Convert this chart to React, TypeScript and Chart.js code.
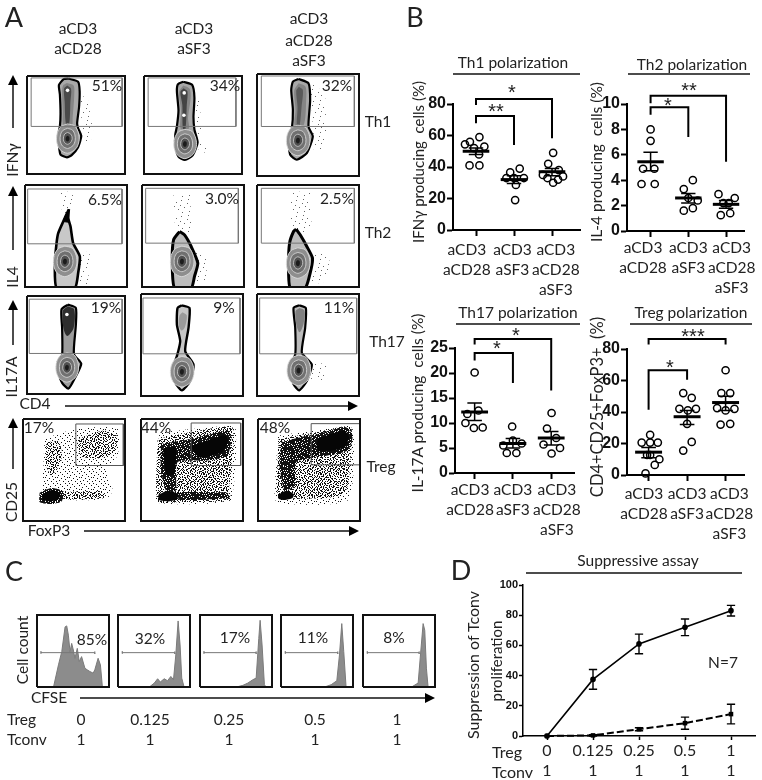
import React, { useEffect, useRef } from "react";
import { Chart, registerables } from "chart.js";

Chart.register(...registerables);

type P = [number, number];
const FONT = "Lato, 'Open Sans', sans-serif";
const BOLD = "'Liberation Sans', Arial, sans-serif";

/* ---------- Panel B data ---------- */
const conditions = [["aCD3", "aCD28"], ["aCD3", "aSF3"], ["aCD3", "aCD28", "aSF3"]];

const th1Points: P[] = [[0.71, 54.4], [0.84, 56], [1.09, 59], [1.22, 53], [0.95, 52], [1.08, 48], [0.83, 41], [1.09, 41],
  [1.9, 36.6], [2.15, 39], [2.26, 33], [1.8, 33], [2.05, 28.6], [2.03, 19], [2.0, 33],
  [3.03, 49], [2.9, 42], [3.18, 38], [2.76, 35], [3.29, 34], [2.88, 33], [3.16, 32], [3.03, 30]];
const th1Mean = [50, 32, 37];
const th1Low = [48, 29.5, 34.5];
const th1High = [52, 34.5, 39];
const th1Brackets: P[][] = [[[1, 79.4], [1, 83.2], [3, 83.2], [3, 58.2]], [[1, 67.7], [1, 72.4], [2, 72.4], [2, 54]]];

const th2Points: P[] = [[1, 8], [1, 7.1], [0.8, 4.9], [1.1, 4.9], [0.76, 3.7], [1.11, 3.7],
  [2.12, 4], [1.88, 3.3], [2.25, 2.4], [2.0, 2.6], [2.12, 1.8], [1.88, 1.6],
  [2.8, 2.9], [3.23, 2.6], [2.93, 2.2], [3.07, 2.2], [2.86, 1.25], [3.11, 1.4]];
const th2Mean = [5.45, 2.6, 2.1];
const th2Low = [4.75, 2.2, 1.8];
const th2High = [6.2, 2.95, 2.4];
const th2Brackets: P[][] = [[[1, 10.05], [1, 10.65], [3, 10.65], [3, 5.45]], [[1, 9.15], [1, 9.75], [2, 9.75], [2, 7.4]]];

const th17Points: P[] = [[1, 20.1], [1.1, 12.5], [0.81, 11.8], [0.76, 10], [0.98, 9], [1.21, 9.1],
  [1.98, 9.3], [2.0, 6.5], [2.23, 5.9], [1.75, 5.5], [1.84, 4], [2.09, 4],
  [3.01, 12], [2.89, 8.9], [3.13, 7], [2.8, 5.7], [3.23, 5], [3.01, 3.9]];
const th17Mean = [12.2, 5.9, 7];
const th17Low = [10.5, 5, 5.6];
const th17High = [14, 6.9, 8.3];
const th17Brackets: P[][] = [[[1, 25.7], [1, 26.8], [3, 26.8], [3, 16.5]], [[1, 22.5], [1, 24], [2, 24], [2, 18]]];

const tregPoints: P[] = [[1.04, 25.5], [0.82, 20.6], [1.04, 20.6], [1.24, 20.6], [0.96, 12.7], [1.04, 12.7], [1.28, 10], [1.16, 6.4], [0.92, 1],
  [1.9, 52], [2.12, 49], [1.8, 42], [2.02, 41], [2.23, 42], [2.0, 32.5], [2.12, 21], [1.9, 15.5],
  [3, 66.5], [2.89, 52], [3.12, 52], [2.78, 42.5], [3, 41], [3.23, 42], [2.87, 32], [3.12, 32.5]];
const tregMean = [14.5, 37, 46];
const tregLow = [11, 32, 41];
const tregHigh = [17.5, 41, 50];
const tregBrackets: P[][] = [[[1, 82.8], [1, 86.4], [3, 86.4], [3, 82.8]], [[1, 41.4], [1, 66.5], [2, 66.5], [2, 60.5]]];

/* ---------- Panel D data ---------- */
const dTreg = ["0", "0.125", "0.25", "0.5", "1"];
const dTconv = ["1", "1", "1", "1", "1"];
const suppressionAct = [0, 37.5, 61, 72, 83];
const suppressionActErr = [0, 6.5, 6.5, 5.5, 3.5];
const suppressionCtl = [0, 0.4, 4.5, 8.5, 14.5];
const suppressionCtlErr = [0, 0.5, 1, 4, 6.5];

/* ---------- Panel C histograms (channel, count) ---------- */
const hist85: P[] = [[50, 0], [65, 67], [75, 107], [85, 182], [90, 185], [95, 157], [100, 107], [105, 132], [110, 112], [115, 87], [122, 117], [128, 77], [135, 92], [145, 57], [152, 52], [160, 47], [170, 42], [175, 52], [185, 87], [192, 67], [198, 0]];
const hist32: P[] = [[95, 0], [110, 12], [120, 25], [128, 15], [140, 25], [150, 19], [160, 32], [168, 22], [175, 97], [182, 200], [188, 127], [193, 27], [200, 0]];
const hist17: P[] = [[110, 0], [130, 5], [145, 12], [160, 22], [170, 27], [178, 147], [182, 202], [188, 127], [195, 7], [200, 0]];
const hist11: P[] = [[132, 0], [152, 7], [169, 19], [177, 97], [184, 192], [190, 107], [197, 0]];
const hist8: P[] = [[147, 0], [167, 12], [174, 97], [182, 192], [187, 172], [192, 57], [197, 0]];
const histGates: P[] = [[12, 175], [13, 172], [12, 170], [13, 172], [13, 170]];

/* ---------- Panel A contour data (channel units within a plot) ---------- */
const ring1: P[] = [[0, -46], [22, -40], [34, -18], [36, 8], [26, 32], [0, 46], [-24, 34], [-34, 10], [-32, -18], [-20, -38]];
const ring2: P[] = [[0, -32], [15, -27], [23, -12], [24, 6], [17, 22], [0, 31], [-16, 23], [-23, 7], [-22, -12], [-14, -26]];
const ring3: P[] = [[0, -19], [9, -15], [14, -6], [14, 4], [9, 13], [0, 18], [-9, 13], [-13, 4], [-12, -7], [-8, -15]];
const ringCore: P[] = [[0, -9], [5, -6], [6, 1], [4, 7], [0, 9], [-4, 7], [-6, 1], [-4, -6]];

type Flow = { outline: P[]; gate: [P, P]; lobe: P; fill: string; edge: number; streak?: P[]; streakFill?: string; inner?: P[]; innerFill?: string; eyes?: P[]; spike?: P[]; cloud?: P[][] };

const flowTh1: Flow[] = [
  { outline: [[130, 8], [160, 18], [165, 48], [163, 98], [157, 148], [160, 163], [170, 188], [160, 223], [140, 248], [125, 255], [105, 246], [100, 218], [97, 188], [103, 158], [105, 118], [103, 58], [100, 28], [115, 10]],
    gate: [[13, 6], [298, 158]], lobe: [127, 196], fill: "#a8a8a8", edge: 2.2,
    streak: [[125, 22], [146, 30], [148, 60], [143, 130], [140, 160], [115, 160], [112, 110], [110, 50], [113, 30]], streakFill: "#858585",
    inner: [[126, 30], [138, 40], [136, 80], [132, 150], [122, 150], [118, 80], [116, 40]], innerFill: "#4a4a4a", eyes: [[127, 45]],
    cloud: [[[168, 60], [190, 70], [210, 190], [180, 215], [172, 190]]] },
  { outline: [[123, 18], [151, 28], [158, 68], [155, 128], [158, 168], [168, 208], [153, 248], [128, 263], [108, 253], [98, 218], [98, 183], [103, 158], [108, 108], [103, 48], [106, 26]],
    gate: [[13, 6], [288, 158]], lobe: [128, 213], fill: "#a8a8a8", edge: 2.2,
    streak: [[123, 30], [143, 40], [146, 70], [138, 130], [140, 165], [115, 165], [116, 110], [110, 50]], streakFill: "#858585",
    inner: [[124, 38], [136, 48], [134, 90], [130, 165], [122, 165], [120, 90], [114, 50]], innerFill: "#444", eyes: [[126, 53], [125, 123]],
    cloud: [[[160, 60], [175, 70], [180, 200], [205, 240], [172, 240]]] },
  { outline: [[125, 15], [155, 28], [160, 78], [155, 158], [168, 188], [150, 238], [120, 258], [100, 243], [95, 198], [105, 163], [108, 108], [103, 48], [108, 23]],
    gate: [[13, 6], [293, 158]], lobe: [123, 200], fill: "#a8a8a8", edge: 2.2,
    streak: [[125, 28], [146, 38], [148, 78], [140, 155], [114, 155], [116, 108], [112, 50]], streakFill: "#858585",
    inner: [[126, 38], [138, 48], [134, 100], [128, 155], [120, 155], [122, 100], [118, 50]], innerFill: "#5a5a5a",
    cloud: [[[160, 20], [205, 60], [210, 200], [172, 255], [170, 190]]] },
];

const flowTh2: Flow[] = [
  { outline: [[132, 73], [130, 100], [137, 125], [145, 175], [165, 215], [160, 265], [150, 310], [95, 310], [90, 235], [95, 175], [100, 145], [115, 110]],
    gate: [[8, 12], [292, 177]], lobe: [120, 230], fill: "#c8c8c8", edge: 2.6,
    spike: [[132, 73], [130, 100], [132, 112], [115, 110], [120, 95]],
    cloud: [[[105, 20], [145, 20], [140, 85], [112, 85]], [[165, 195], [195, 205], [190, 300], [162, 300]]] },
  { outline: [[113, 140], [128, 150], [148, 185], [168, 235], [158, 275], [148, 310], [98, 310], [91, 235], [95, 165]],
    gate: [[11, 10], [290, 175]], lobe: [120, 230], fill: "#bdbdbd", edge: 3,
    cloud: [[[95, 30], [145, 30], [150, 150], [100, 145]], [[160, 190], [200, 220], [190, 290], [155, 290]]] },
  { outline: [[118, 133], [130, 150], [150, 185], [167, 220], [160, 265], [145, 310], [100, 310], [95, 245], [98, 175], [110, 140]],
    gate: [[13, 10], [293, 175]], lobe: [123, 235], fill: "#bdbdbd", edge: 3,
    cloud: [[[100, 20], [160, 20], [165, 140], [100, 145]], [[105, 60], [150, 60], [150, 135], [105, 135]], [[165, 200], [220, 210], [210, 290], [165, 300]]] },
];

const flowTh17: Flow[] = [
  { outline: [[128, 27], [153, 37], [153, 92], [147, 182], [170, 212], [150, 257], [130, 290], [110, 272], [95, 232], [97, 204], [110, 184], [110, 102], [108, 42]],
    gate: [[7, 10], [298, 180]], lobe: [125, 224], fill: "#9c9c9c", edge: 2.2,
    streak: [[128, 32], [148, 42], [146, 100], [126, 125], [114, 100], [113, 45]], streakFill: "#2e2e2e", eyes: [[125, 58]] },
  { outline: [[123, 34], [146, 42], [143, 102], [133, 172], [158, 212], [148, 262], [123, 290], [103, 267], [93, 232], [108, 187], [118, 142], [108, 92], [110, 42]],
    gate: [[6, 12], [298, 180]], lobe: [123, 234], fill: "#c6c6c6", edge: 2.4,
    streak: [[125, 55], [138, 65], [132, 100], [122, 110], [114, 95], [116, 65]], streakFill: "#9a9a9a" },
  { outline: [[127, 34], [147, 42], [145, 102], [135, 177], [165, 212], [150, 262], [127, 290], [110, 272], [95, 227], [115, 182], [115, 102], [110, 42]],
    gate: [[8, 12], [300, 180]], lobe: [125, 230], fill: "#bcbcbc", edge: 2.2,
    streak: [[128, 42], [143, 50], [140, 90], [128, 115], [118, 90], [116, 52]], streakFill: "#808080",
    cloud: [[[165, 200], [215, 215], [210, 260], [160, 255]]] },
];

type Tone = "light" | "mid" | "dense" | "solid";
type Region = { poly: P[]; tone: Tone };
const tregGates: [P, P][] = [[[159, 15], [302, 140]], [[151, 12], [300, 140]], [[160, 14], [307, 138]]];
const tregLow1: Region[] = [
  { tone: "light", poly: [[65, 60], [120, 40], [200, 25], [285, 30], [285, 110], [250, 150], [270, 215], [250, 240], [140, 245], [100, 240], [60, 235], [62, 130]] },
  { tone: "mid", poly: [[165, 60], [240, 35], [282, 50], [275, 100], [220, 120], [170, 110]] },
  { tone: "mid", poly: [[70, 70], [110, 70], [115, 130], [85, 170], [70, 140]] },
  { tone: "mid", poly: [[110, 220], [240, 218], [245, 238], [110, 240]] },
  { tone: "dense", poly: [[50, 222], [85, 208], [122, 218], [116, 248], [80, 256], [50, 250]] },
  { tone: "solid", poly: [[58, 228], [85, 214], [112, 224], [106, 242], [80, 248], [60, 244]] },
];
const tregLow2: Region[] = [
  { tone: "light", poly: [[55, 40], [270, 20], [285, 30], [285, 130], [270, 240], [200, 255], [60, 255], [45, 240]] },
  { tone: "mid", poly: [[50, 60], [150, 40], [272, 22], [280, 60], [265, 215], [270, 245], [115, 250], [50, 250]] },
  { tone: "dense", poly: [[60, 75], [150, 60], [260, 35], [272, 55], [260, 110], [200, 125], [110, 130], [105, 215], [75, 215], [60, 150]] },
  { tone: "dense", poly: [[110, 220], [260, 222], [265, 238], [115, 243]] },
  { tone: "solid", poly: [[150, 82], [252, 48], [262, 64], [244, 100], [175, 116]] },
  { tone: "solid", poly: [[66, 88], [104, 84], [100, 165], [78, 170]] },
  { tone: "solid", poly: [[52, 228], [80, 216], [112, 226], [108, 242], [80, 248], [54, 244]] },
];
const tregLow3: Region[] = [
  { tone: "light", poly: [[60, 50], [280, 25], [290, 80], [270, 245], [60, 255], [50, 235]] },
  { tone: "mid", poly: [[62, 60], [175, 40], [278, 22], [282, 70], [260, 225], [110, 240], [60, 230]] },
  { tone: "dense", poly: [[70, 70], [170, 50], [180, 110], [115, 130], [110, 200], [80, 215], [65, 140]] },
  { tone: "dense", poly: [[165, 50], [262, 24], [285, 50], [270, 95], [190, 112], [165, 95]] },
  { tone: "solid", poly: [[180, 60], [258, 34], [274, 54], [260, 86], [192, 100], [176, 88]] },
  { tone: "solid", poly: [[60, 228], [85, 216], [108, 226], [104, 238], [80, 244], [62, 240]] },
];

/* ---------- stipple tiles (fill style for dot clouds) ---------- */
const tileSpeck = ["#...............", ".........#......", "................", "....#...........", "...............#", "................", "........#.......", "..#.............", "............#...", "................", "......#.........", "................", ".#..............", "..........#.....", "................", "................"];
const tileA = ["#.........#.", "....#.......", "........#...", "..#.........", "......#....#", "............", "#.......#...", "...#........", "..........#.", ".....#......", ".#..........", ".......#...."];
const tileB = ["#....#.....", "...#.....#.", ".......#...", ".#.........", "....#.....#", "........#..", "..#........", "......#...#", "#..........", "...#....#..", ".......#..."];
const tileC = ["#..#.....#...", "....#.#.....#", ".#.......#...", "...#..#.....#", "#.......#.#..", "..#.#.......#", "......#..#...", ".#.......#.#.", "....#.#......", "#.........#..", "..#..#..#....", ".......#....#", ".#..#.....#.."];
const tileDense = [".##.###.##.#", "###.#.####.#", "#.#####.#.##", "####.#.####.", ".#.######.##", "###.#.#.####", "#.######.#.#", ".###.#.#####", "##.#####.#.#", "#####.#.###.", "#.#.######.#", ".#####.#.###"];

function pattern(rows: string[], color = "#111") {
  const c = document.createElement("canvas");
  c.width = rows[0].length;
  c.height = rows.length;
  const g = c.getContext("2d")!;
  g.fillStyle = color;
  rows.forEach((r, y) => [...r].forEach((ch, x) => { if (ch === "#") g.fillRect(x, y, 1, 1); }));
  return g.createPattern(c, "repeat")!;
}

/* ---------- dataset helpers ---------- */
const xy = (p: P[]) => p.map(([x, y]) => ({ x, y }));
const closed = (p: P[]) => xy([...p, p[0]]);
const poly = (p: P[], fill: any, stroke: string, w: number, tension = 0) => ({
  data: closed(p), showLine: true, fill: "shape", backgroundColor: fill, borderColor: stroke, borderWidth: w, pointRadius: 0, tension,
});
const box = (a: P, b: P, color: string, w: number) => ({
  data: xy([a, [b[0], a[1]], b, [a[0], b[1]], a]), showLine: true, fill: false, borderColor: color, borderWidth: w, pointRadius: 0, clip: false,
});

const FLOW = 307;
const flowScales = () => ({
  x: { type: "linear", display: false, min: 0, max: FLOW },
  y: { type: "linear", display: false, min: 0, max: FLOW, reverse: true },
});
const baseOpts = { animation: false, responsive: false, plugins: { legend: { display: false }, tooltip: { enabled: false } }, events: [] as string[] };

function contourConfig(f: Flow) {
  const [cx, cy] = f.lobe;
  const shift = (r: P[]) => r.map(([x, y]) => [x + cx, y + cy] as P);
  const ds: any[] = [];
  (f.cloud || []).forEach((c) => ds.push(poly(c, pattern(tileSpeck, "#666"), "transparent", 0)));
  ds.push(poly(f.outline, f.fill, "#000", f.edge, 0.2));
  if (f.streak) ds.push(poly(f.streak, f.streakFill, "transparent", 0, 0.3));
  if (f.inner) ds.push(poly(f.inner, f.innerFill, "transparent", 0, 0.3));
  ds.push(poly(shift(ring1), "#8e8e8e", "#dadada", 0.9, 0.3));
  ds.push(poly(shift(ring2), "#707070", "#d2d2d2", 0.9, 0.3));
  ds.push(poly(shift(ring3), "#505050", "#c6c6c6", 0.9, 0.3));
  ds.push(poly(shift(ringCore), "#1c1c1c", "transparent", 0, 0.3));
  if (f.spike) ds.push(poly(f.spike, "#000", "#000", 1));
  if (f.eyes) ds.push({ data: xy(f.eyes), pointRadius: 1.8, pointBackgroundColor: "#fff", pointBorderWidth: 0, showLine: false });
  ds.push(box(f.gate[0], f.gate[1], "#777", 1));
  ds.push(box([0, 0], [FLOW, FLOW], "#111", 2));
  return { type: "scatter", data: { datasets: ds.reverse() }, options: { ...baseOpts, layout: { padding: 2 }, scales: flowScales() } };
}

function tregConfig(regions: Region[], gate: [P, P]) {
  const layers: Record<Tone, any[]> = {
    light: [pattern(tileA)],
    mid: [pattern(tileB), pattern(tileC)],
    dense: [pattern(tileDense), pattern(tileC)],
    solid: ["#060606"],
  };
  const ds: any[] = [];
  regions.forEach((r) => layers[r.tone].forEach((fill) => ds.push(poly(r.poly, fill, "transparent", 0, 0.2))));
  ds.push(box(gate[0], gate[1], "#555", 1));
  ds.push(box([0, 0], [FLOW, FLOW], "#111", 2));
  return { type: "scatter", data: { datasets: ds.reverse() }, options: { ...baseOpts, layout: { padding: 2 }, scales: flowScales() } };
}

function histConfig(h: P[], gate: P) {
  const W = 218;
  const G = 104;
  const ds: any[] = [
    { data: xy(h), showLine: true, fill: "origin", backgroundColor: "#8c8c8c", borderColor: "#7a7a7a", borderWidth: 1, pointRadius: 0 },
    { data: xy([[gate[0], G - 4], [gate[0], G + 4], [gate[0], G], [gate[1], G], [gate[1], G - 4], [gate[1], G + 4]]), showLine: true, fill: false, borderColor: "#777", borderWidth: 1, pointRadius: 0 },
    box([0, 0], [W, W], "#111", 2),
  ];
  return { type: "scatter", data: { datasets: ds.reverse() }, options: { ...baseOpts, layout: { padding: 2 }, scales: { x: { type: "linear", display: false, min: 0, max: W }, y: { type: "linear", display: false, min: 0, max: W } } } };
}

type DotSpec = { left: number; right: number; top: number; bottom: number; c1: number; c3: number; yMax: number; step: number; points: P[]; mean: number[]; low: number[]; high: number[]; brackets: P[][]; labelPos: number[]; labelPad: number };
const ML = 42, MB = 70, MT = 40, MR = 6;

function dotConfig(s: DotSpec) {
  const unit = (s.c3 - s.c1) / 2;
  const xMin = 1 - (s.c1 - s.left) / unit;
  const xMax = 1 + (s.right - s.c1) / unit;
  const line = { showLine: true, fill: false, borderColor: "#000", pointRadius: 0, clip: false };
  const ds: any[] = [{ data: xy(s.points), showLine: false, pointRadius: 3.6, pointBorderWidth: 1.5, pointBorderColor: "#000", pointBackgroundColor: "transparent", clip: false }];
  s.mean.forEach((m, i) => {
    const c = i + 1;
    ds.push({ ...line, data: [{ x: c - 0.35, y: m }, { x: c + 0.35, y: m }], borderWidth: 3 });
    ds.push({ ...line, borderWidth: 1.5, data: [{ x: c - 0.19, y: s.low[i] }, { x: c + 0.19, y: s.low[i] }, { x: c, y: null }, { x: c, y: s.low[i] }, { x: c, y: s.high[i] }, { x: c, y: null }, { x: c - 0.19, y: s.high[i] }, { x: c + 0.19, y: s.high[i] }] });
  });
  s.brackets.forEach((b) => ds.push({ ...line, data: xy(b), borderWidth: 2 }));
  return {
    type: "scatter",
    data: { datasets: ds },
    options: {
      ...baseOpts,
      layout: { padding: { top: MT, right: MR, left: 0, bottom: 0 } },
      scales: {
        x: {
          type: "linear", min: xMin, max: xMax, position: "bottom", weight: 0,
          afterBuildTicks: (a: any) => { a.ticks = [1, 2, 3].map((value) => ({ value })); },
          afterFit: (a: any) => { a.height = 6; },
          ticks: { display: false },
          grid: { drawOnChartArea: false, tickLength: 6, tickWidth: 2, tickColor: "#000" },
          border: { width: 2, color: "#000" },
        },
        xl: {
          type: "linear", min: xMin, max: xMax, position: "bottom", weight: 1,
          afterBuildTicks: (a: any) => { a.ticks = s.labelPos.map((value) => ({ value })); },
          afterFit: (a: any) => { a.height = MB - 6; },
          ticks: { autoSkip: false, maxRotation: 0, minRotation: 0, padding: s.labelPad, color: "#222", font: { family: FONT, size: 15.5, lineHeight: 1.3 }, callback: (_v: any, i: number) => conditions[i] },
          grid: { display: false, drawTicks: false },
          border: { display: false },
        },
        y: {
          type: "linear", min: 0, max: s.yMax,
          afterFit: (a: any) => { a.width = ML; },
          ticks: { stepSize: s.step, padding: 1, color: "#111", font: { family: BOLD, size: 16, weight: "bold" } },
          grid: { drawOnChartArea: false, tickLength: 6, tickWidth: 2, tickColor: "#000" },
          border: { width: 2, color: "#000" },
        },
      },
    },
  };
}

function suppressionConfig() {
  const err = (vals: number[], errs: number[]) => {
    const out: any[] = [];
    vals.forEach((v, i) => {
      const c = i + 1;
      if (errs[i] === 0) return;
      out.push({ x: c - 0.09, y: v - errs[i] }, { x: c + 0.09, y: v - errs[i] }, { x: c, y: null }, { x: c, y: v - errs[i] }, { x: c, y: v + errs[i] }, { x: c, y: null }, { x: c - 0.09, y: v + errs[i] }, { x: c + 0.09, y: v + errs[i] }, { x: c, y: null });
    });
    return out;
  };
  const at = (vals: number[]) => vals.map((y, i) => ({ x: i + 1, y }));
  const bar = { showLine: true, fill: false, borderColor: "#000", borderWidth: 1.4, pointRadius: 0, clip: false };
  return {
    type: "scatter",
    data: {
      datasets: [
        { data: at(suppressionAct), showLine: true, fill: false, borderColor: "#000", borderWidth: 1.6, pointRadius: 2.8, pointBackgroundColor: "#000", pointBorderWidth: 0, clip: false },
        { data: at(suppressionCtl), showLine: true, fill: false, borderColor: "#000", borderWidth: 2, borderDash: [7, 3], pointStyle: "rect", pointRadius: 3.2, pointBackgroundColor: "#000", pointBorderWidth: 0, clip: false },
        { ...bar, data: err(suppressionAct, suppressionActErr) },
        { ...bar, data: err(suppressionCtl, suppressionCtlErr) },
      ],
    },
    options: {
      ...baseOpts,
      layout: { padding: { top: 10, right: 6, left: 0, bottom: 0 } },
      scales: {
        x: {
          type: "linear", min: 1 - 24 / 46, max: 5 + 24 / 46,
          afterBuildTicks: (a: any) => { a.ticks = [1, 2, 3, 4, 5].map((value) => ({ value })); },
          afterFit: (a: any) => { a.height = 44; },
          ticks: { autoSkip: false, maxRotation: 0, minRotation: 0, padding: 1, color: "#222", font: { family: FONT, size: 16, lineHeight: 1.25 }, callback: (_v: any, i: number) => [dTreg[i], dTconv[i]] },
          grid: { drawOnChartArea: false, tickLength: 4, tickWidth: 1.5, tickColor: "#000" },
          border: { width: 1.5, color: "#000" },
        },
        y: {
          type: "linear", min: 0, max: 100,
          afterFit: (a: any) => { a.width = 34; },
          ticks: { stepSize: 20, padding: 1, color: "#111", font: { family: BOLD, size: 11, weight: "bold" } },
          grid: { drawOnChartArea: false, tickLength: 4, tickWidth: 1.5, tickColor: "#000" },
          border: { width: 1.5, color: "#000" },
        },
      },
    },
  };
}

/* ---------- components ---------- */
function ChartBox({ left, top, width, height, make }: { left: number; top: number; width: number; height: number; make: () => any }) {
  const ref = useRef<HTMLCanvasElement>(null);
  useEffect(() => {
    const chart = new Chart(ref.current!, make());
    return () => chart.destroy();
  }, []);
  return <canvas ref={ref} width={width} height={height} style={{ position: "absolute", left, top, width, height }} />;
}

type L = { t: string; x: number; y: number; s?: number; r?: boolean; a?: "c" | "l"; f?: string; sp?: number };
function Label({ t, x, y, s = 15.5, r, a = "c", f = FONT, sp }: L) {
  const tf = `translate(${a === "c" ? "-50%" : "0"},-50%)${r ? " rotate(-90deg)" : ""}`;
  return <div style={{ position: "absolute", left: x, top: y, transform: tf, fontFamily: f, fontSize: s, lineHeight: 1, color: "#222", whiteSpace: "pre", letterSpacing: sp }}>{t}</div>;
}

const STAR = { s: 20, f: BOLD };
const texts: L[] = [
  { t: "A", x: 14, y: 16, s: 27 }, { t: "B", x: 415, y: 16, s: 27 }, { t: "C", x: 14, y: 570, s: 27 }, { t: "D", x: 461, y: 569, s: 27 },
  { t: "aCD3", x: 78, y: 29 }, { t: "aCD28", x: 78, y: 49 }, { t: "aCD3", x: 194, y: 29 }, { t: "aSF3", x: 194, y: 49 },
  { t: "aCD3", x: 309, y: 19 }, { t: "aCD28", x: 309, y: 41 }, { t: "aSF3", x: 309, y: 61 },
  { t: "51%", x: 107, y: 86 }, { t: "34%", x: 225, y: 86 }, { t: "32%", x: 337, y: 86 },
  { t: "6.5%", x: 105, y: 200 }, { t: "3.0%", x: 222, y: 199 }, { t: "2.5%", x: 337, y: 199 },
  { t: "19%", x: 106, y: 308 }, { t: "9%", x: 224, y: 308 }, { t: "11%", x: 339, y: 308 },
  { t: "17%", x: 39, y: 428 }, { t: "44%", x: 156, y: 428 }, { t: "48%", x: 275, y: 428 },
  { t: "Th1", x: 378, y: 122 }, { t: "Th2", x: 378, y: 233 }, { t: "Th17", x: 387, y: 342 }, { t: "Treg", x: 381, y: 467 },
  { t: "IFNγ", x: 13, y: 160, r: true }, { t: "IL4", x: 13, y: 277, r: true }, { t: "IL17A", x: 12, y: 377, r: true }, { t: "CD25", x: 12, y: 502, r: true },
  { t: "CD4", x: 35, y: 404 }, { t: "FoxP3", x: 49, y: 531 },
  { t: "Th1 polarization", x: 513, y: 63 }, { t: "Th2 polarization", x: 692, y: 65 }, { t: "Th17 polarization", x: 518, y: 313 }, { t: "Treg polarization", x: 691, y: 313 },
  { t: "IFNγ producing  cells (%)", x: 418, y: 162, r: true, s: 15 }, { t: "IL-4 producing  cells (%)", x: 597, y: 162, r: true, s: 15.5 },
  { t: "IL-17A producing  cells (%)", x: 418, y: 403, r: true, s: 15.5 }, { t: "CD4+CD25+FoxP3+  (%)", x: 597, y: 407, r: true, s: 16.5 },
  { t: "*", x: 512, y: 92, ...STAR }, { t: "**", x: 496, y: 111, ...STAR }, { t: "**", x: 689, y: 90, ...STAR }, { t: "*", x: 668, y: 105, ...STAR },
  { t: "*", x: 516, y: 335, ...STAR }, { t: "*", x: 497, y: 348, ...STAR }, { t: "***", x: 693, y: 336, ...STAR }, { t: "*", x: 670, y: 367, ...STAR },
  { t: "Cell count", x: 23, y: 650, r: true }, { t: "CFSE", x: 49, y: 698 },
  { t: "85%", x: 92, y: 640 }, { t: "32%", x: 150, y: 639 }, { t: "17%", x: 235, y: 638 }, { t: "11%", x: 313, y: 638 }, { t: "8%", x: 394, y: 638 },
  { t: "Treg", x: 7, y: 720, a: "l" }, { t: "Tconv", x: 7, y: 740, a: "l" },
  ...dTreg.map((t, i) => ({ t, x: [81, 150, 229, 315, 397][i], y: 720 })),
  ...dTconv.map((t, i) => ({ t, x: [81, 150, 229, 315, 397][i], y: 740 })),
  { t: "Suppressive assay", x: 638, y: 561 }, { t: "N=7", x: 723, y: 663 },
  { t: "Suppression of Tconv", x: 473, y: 665, r: true, s: 16 }, { t: "proliferation", x: 496, y: 661, r: true, s: 15 },
  { t: "Treg", x: 492, y: 752, a: "l", s: 16 }, { t: "Tconv", x: 492, y: 772, a: "l", s: 16 },
];

const rules = [[453, 74, 580, 74], [628, 74, 750, 74], [456, 324, 580, 324], [630, 324, 752, 324], [526, 573, 742, 573]];
const arrowsUp = [[13, 128, 75], [13, 250, 186], [13, 345, 300], [13, 469, 418]];
const arrowsRight = [[65, 358, 406], [84, 359, 531], [80, 435, 698]];

const flowCols = [25, 142, 257];
const flowRows: { y: number; data: Flow[]; cols: number[] }[] = [
  { y: 74, data: flowTh1, cols: flowCols }, { y: 185, data: flowTh2, cols: flowCols }, { y: 294, data: flowTh17, cols: [25, 141, 257] },
];
const tregCols = [23, 141, 258];
const histCols = [37, 118, 200, 281, 363];
const hists = [hist85, hist32, hist17, hist11, hist8];

const dotPanels: DotSpec[] = [
  { left: 453, right: 580, top: 104, bottom: 230, c1: 476, c3: 552, yMax: 80, step: 20, points: th1Points, mean: th1Mean, low: th1Low, high: th1High, brackets: th1Brackets, labelPos: [0.76, 1.96, 3.1], labelPad: 4 },
  { left: 627, right: 752, top: 104, bottom: 231, c1: 652, c3: 732, yMax: 10, step: 2, points: th2Points, mean: th2Mean, low: th2Low, high: th2High, brackets: th2Brackets, labelPos: [0.8, 2, 3.15], labelPad: 1 },
  { left: 455, right: 577, top: 348, bottom: 473, c1: 475, c3: 553, yMax: 25, step: 5, points: th17Points, mean: th17Mean, low: th17Low, high: th17High, brackets: th17Brackets, labelPos: [0.88, 2, 3.15], labelPad: 1 },
  { left: 627, right: 752, top: 349, bottom: 475, c1: 650, c3: 732, yMax: 80, step: 20, points: tregPoints, mean: tregMean, low: tregLow, high: tregHigh, brackets: tregBrackets, labelPos: [0.88, 2, 3.1], labelPad: 3 },
];

export default function App() {
  return (
    <div style={{ position: "absolute", left: 0, top: 0, width: 762, height: 780, background: "#fff", overflow: "hidden" }}>
      {flowRows.map((row) => row.data.map((f, i) => (
        <ChartBox key={`${row.y}-${i}`} left={row.cols[i] - 2} top={row.y - 2} width={106} height={106} make={() => contourConfig(f)} />
      )))}
      {[tregLow1, tregLow2, tregLow3].map((r, i) => (
        <ChartBox key={`t${i}`} left={tregCols[i] - 2} top={417} width={106} height={106} make={() => tregConfig(r, tregGates[i])} />
      ))}
      {hists.map((h, i) => (
        <ChartBox key={`h${i}`} left={histCols[i] - 2} top={613} width={76} height={76} make={() => histConfig(h, histGates[i])} />
      ))}
      {dotPanels.map((s, i) => (
        <ChartBox key={`d${i}`} left={s.left - ML} top={s.top - MT} width={s.right - s.left + ML + MR} height={s.bottom - s.top + MT + MB} make={() => dotConfig(s)} />
      ))}
      <ChartBox left={523 - 34} top={585 - 10} width={755 - 523 + 34 + 6} height={736 - 585 + 10 + 44} make={suppressionConfig} />
      <svg width={762} height={780} style={{ position: "absolute", left: 0, top: 0, pointerEvents: "none" }}>
        {rules.map(([a, b, c, d], i) => <line key={i} x1={a} y1={b} x2={c} y2={d} stroke="#111" strokeWidth={1.5} />)}
        {arrowsUp.map(([x, y1, y2], i) => (
          <g key={i}><line x1={x} y1={y1} x2={x} y2={y2 + 6} stroke="#111" strokeWidth={1.5} /><polygon points={`${x},${y2} ${x - 5},${y2 + 10} ${x + 5},${y2 + 10}`} fill="#000" /></g>
        ))}
        {arrowsRight.map(([x1, x2, y], i) => (
          <g key={i}><line x1={x1} y1={y} x2={x2 - 6} y2={y} stroke="#111" strokeWidth={1.5} /><polygon points={`${x2},${y} ${x2 - 10},${y - 5} ${x2 - 10},${y + 5}`} fill="#000" /></g>
        ))}
      </svg>
      {texts.map((l, i) => <Label key={i} {...l} />)}
    </div>
  );
}
